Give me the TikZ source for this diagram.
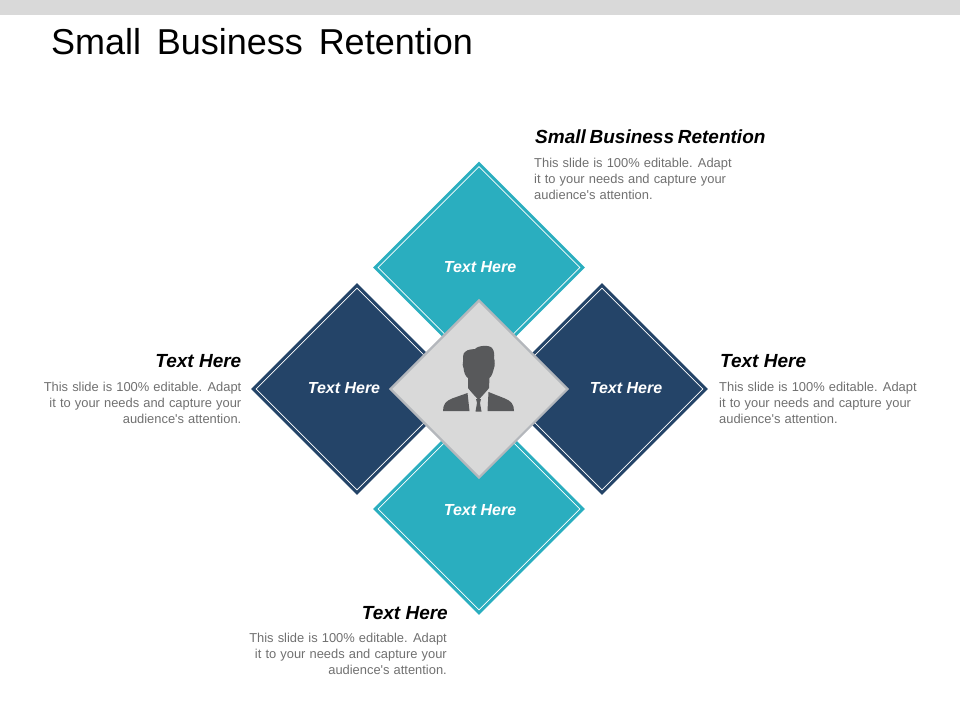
\documentclass[tikz,border=0pt]{standalone}
\usepackage{fontspec}
\setmainfont{Liberation Sans}
\newfontfamily\wide[WordSpace=1.15]{Liberation Sans}
\usetikzlibrary{shapes.geometric}
\definecolor{teal}{HTML}{2AAEBF}
\definecolor{navy}{HTML}{244468}
\definecolor{bar}{HTML}{D9D9D9}
\definecolor{gborder}{HTML}{B4B7BC}
\definecolor{body}{HTML}{707070}
\definecolor{icon}{HTML}{58595B}
\tikzset{
  x=1pt,y=-1pt,
  bigd/.style={diamond,aspect=1,inner sep=0pt,minimum width=212pt,minimum height=212pt,fill=#1},
  lined/.style={diamond,aspect=1,inner sep=0pt,minimum width=202pt,minimum height=202pt,draw=white,line width=.7pt},
  inlabel/.style={text=white,font=\fontsize{16}{18}\selectfont\bfseries\itshape},
  heading/.style={text=black,font=\fontsize{19}{21}\selectfont\bfseries\itshape,inner sep=0pt},
  bodyr/.style={text=body,font=\wide\fontsize{12.9}{16}\selectfont,inner sep=0pt,align=right},
  bodyl/.style={text=body,font=\wide\fontsize{12.9}{16}\selectfont,inner sep=0pt,align=left},
}
\begin{document}
\begin{tikzpicture}
\useasboundingbox (0,0) rectangle (960,720);
\fill[bar] (0,0) rectangle (960,14.5);
\node[anchor=west,inner sep=0pt,font=\fontsize{36}{40}\selectfont] (title) at (51,42) {Small\hspace{.16em} Business\hspace{.16em} Retention};

\node[bigd=teal] (dt) at (479,267.5) {};
\node[lined] (dti) at (479,267.5) {};
\node[bigd=teal] (db) at (479,509) {};
\node[lined] (dbi) at (479,509) {};
\node[bigd=navy] (dl) at (357,389) {};
\node[lined] (dli) at (357,389) {};
\node[bigd=navy] (dr) at (602,389) {};
\node[lined] (dri) at (602,389) {};

\node[diamond,aspect=1,inner sep=0pt,minimum width=178pt,minimum height=178pt,fill=bar,draw=gborder,line width=2.2pt] (dc) at (479,389) {};

\node[inlabel] (lt) at (480,267.5) {Text Here};
\node[inlabel] (lb) at (480,510.5) {Text Here};
\node[inlabel] (ll) at (344,388.5) {Text Here};
\node[inlabel] (lr) at (626,388.5) {Text Here};

% person icon
\fill[icon] (443,411) .. controls (443,404) and (446,401) .. (452,398.5)
  -- (467.5,393) -- (469.5,411) -- cycle;
\fill[icon] (514,411) .. controls (514,404) and (511,401) .. (505,398.5)
  -- (488.5,392) -- (487.5,411) -- cycle;
\fill[icon] (463,362) .. controls (463,357) and (463,353) .. (465,352)
  .. controls (468,349) and (472,349.5) .. (475,349)
  .. controls (478,345.5) and (489,344.5) .. (492,348)
  .. controls (494.5,351) and (494.5,355) .. (494,358)
  .. controls (495,361) and (495,366) .. (494,368)
  .. controls (493,372) and (492,376) .. (489.5,378)
  -- (489,388) .. controls (486,392) and (482,396) .. (478.5,400)
  .. controls (475,396) and (471,392) .. (468,388)
  -- (468,378) .. controls (465,376) and (464,372) .. (463.5,368)
  .. controls (462.5,366) and (462.5,364) .. (463,362) -- cycle;
\fill[icon] (476,399) -- (481,399) -- (480,403) -- (481.5,411.5) -- (475.5,411.5) -- (477,403) -- cycle;

% texts
\node[heading,anchor=base west] (h1) at (535,143) {Small\hspace{-.08em} Business\hspace{-.08em} Retention};
\node[bodyl,anchor=north west] (b1) at (534,157.5) {This slide is 100\% editable. Adapt\\it to your needs and capture your\\audience's attention.};
\node[heading,anchor=base east] (h2) at (241.5,367) {Text Here};
\node[bodyr,anchor=north east] (b2) at (241.5,381.5) {This slide is 100\% editable. Adapt\\it to your needs and capture your\\audience's attention.};
\node[heading,anchor=base west] (h3) at (720,367) {Text Here};
\node[bodyl,anchor=north west] (b3) at (719,381.5) {This slide is 100\% editable. Adapt\\it to your needs and capture your\\audience's attention.};
\node[heading,anchor=base east] (h4) at (448,619) {Text Here};
\node[bodyr,anchor=north east] (b4) at (447,632.5) {This slide is 100\% editable. Adapt\\it to your needs and capture your\\audience's attention.};
\end{tikzpicture}
\end{document}
